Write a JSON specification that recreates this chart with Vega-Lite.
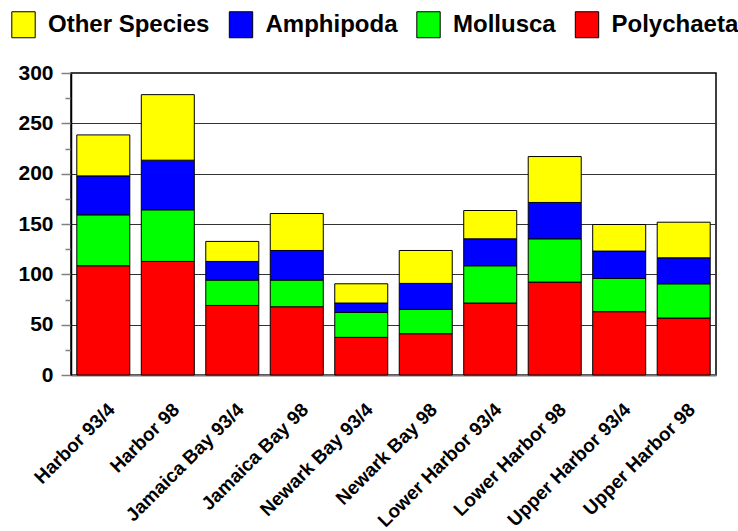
{
  "$schema": "https://vega.github.io/schema/vega-lite/v6.json",
  "autosize": "none",
  "width": 645,
  "height": 302,
  "padding": {"left": 71, "top": 73, "right": 22, "bottom": 156},
  "background": "white",
  "config": {
    "font": "Liberation Sans",
    "view": {"stroke": "#000000", "strokeWidth": 1.5}
  },
  "data": {
    "values": [
      {"site": "Harbor 93/4", "Polychaeta": 108.5, "Mollusca": 50.6, "Amphipoda": 38.7, "Other Species": 40.7},
      {"site": "Harbor 98", "Polychaeta": 112.8, "Mollusca": 51.3, "Amphipoda": 49.3, "Other Species": 65.1},
      {"site": "Jamaica Bay 93/4", "Polychaeta": 69.1, "Mollusca": 25.2, "Amphipoda": 18.5, "Other Species": 19.9},
      {"site": "Jamaica Bay 98", "Polychaeta": 67.8, "Mollusca": 26.5, "Amphipoda": 29.4, "Other Species": 36.7},
      {"site": "Newark Bay 93/4", "Polychaeta": 37.4, "Mollusca": 24.8, "Amphipoda": 9.3, "Other Species": 19.1},
      {"site": "Newark Bay 98", "Polychaeta": 41.0, "Mollusca": 24.2, "Amphipoda": 25.8, "Other Species": 32.7},
      {"site": "Lower Harbor 93/4", "Polychaeta": 71.5, "Mollusca": 37.0, "Amphipoda": 26.8, "Other Species": 28.1},
      {"site": "Lower Harbor 98", "Polychaeta": 92.3, "Mollusca": 43.0, "Amphipoda": 36.1, "Other Species": 45.6},
      {"site": "Upper Harbor 93/4", "Polychaeta": 62.9, "Mollusca": 33.0, "Amphipoda": 27.2, "Other Species": 26.4},
      {"site": "Upper Harbor 98", "Polychaeta": 56.6, "Mollusca": 34.0, "Amphipoda": 25.8, "Other Species": 35.4}
    ]
  },
  "transform": [
    {"fold": ["Polychaeta", "Mollusca", "Amphipoda", "Other Species"], "as": ["species", "count"]},
    {"calculate": "indexof(['Polychaeta','Mollusca','Amphipoda','Other Species'], datum.species)", "as": "stackOrder"}
  ],
  "mark": {"type": "bar", "stroke": "#000000", "strokeWidth": 1, "opacity": 1},
  "encoding": {
    "x": {
      "field": "site",
      "type": "nominal",
      "sort": null,
      "scale": {"paddingInner": 0.178, "paddingOuter": 0.09},
      "axis": {
        "title": null,
        "labelAngle": -45,
        "labelAlign": "right",
        "labelBaseline": "top",
        "labelFontSize": 19,
        "labelFontWeight": "bold",
        "labelColor": "#000000",
        "labelOffset": 2,
        "labelPadding": 25,
        "ticks": false,
        "domainColor": "#777777",
        "domainWidth": 2,
        "labelLimit": 300
      }
    },
    "y": {
      "field": "count",
      "type": "quantitative",
      "stack": "zero",
      "scale": {"domain": [0, 300], "nice": false},
      "axis": {
        "title": null,
        "values": [0, 25, 50, 75, 100, 125, 150, 175, 200, 225, 250, 275, 300],
        "labelExpr": "datum.value % 50 === 0 ? datum.label : ''",
        "labelFontSize": 21,
        "labelFontWeight": "bold",
        "labelColor": "#000000",
        "labelPadding": 8,
        "tickSize": {"condition": {"test": "datum.value % 50 === 0", "value": 10}, "value": 6},
        "tickColor": "#808080",
        "tickWidth": 1.5,
        "domainColor": "#000000",
        "domainWidth": 1.5,
        "grid": true,
        "gridColor": "#333333",
        "gridWidth": 1,
        "gridOpacity": {"condition": {"test": "datum.value % 50 === 0 && datum.value > 0 && datum.value < 300", "value": 1}, "value": 0}
      }
    },
    "color": {
      "field": "species",
      "type": "nominal",
      "scale": {
        "domain": ["Other Species", "Amphipoda", "Mollusca", "Polychaeta"],
        "range": ["#FFFF00", "#0000FF", "#00FF00", "#FF0000"]
      },
      "legend": {
        "title": null,
        "orient": "none",
        "direction": "horizontal",
        "legendX": -61,
        "legendY": -62,
        "values": ["Other Species", "Amphipoda", "Mollusca", "Polychaeta"],
        "symbolType": "M-0.9,-1H0.9V1H-0.9Z",
        "symbolSize": 676,
        "symbolStrokeColor": "#000000",
        "symbolStrokeWidth": 1,
        "symbolOpacity": 1,
        "labelFontSize": 24,
        "labelFontWeight": "bold",
        "labelColor": "#000000",
        "labelOffset": 11,
        "columnPadding": 16.5,
        "labelLimit": 300
      }
    },
    "order": {"field": "stackOrder", "type": "quantitative", "sort": "ascending"}
  }
}
